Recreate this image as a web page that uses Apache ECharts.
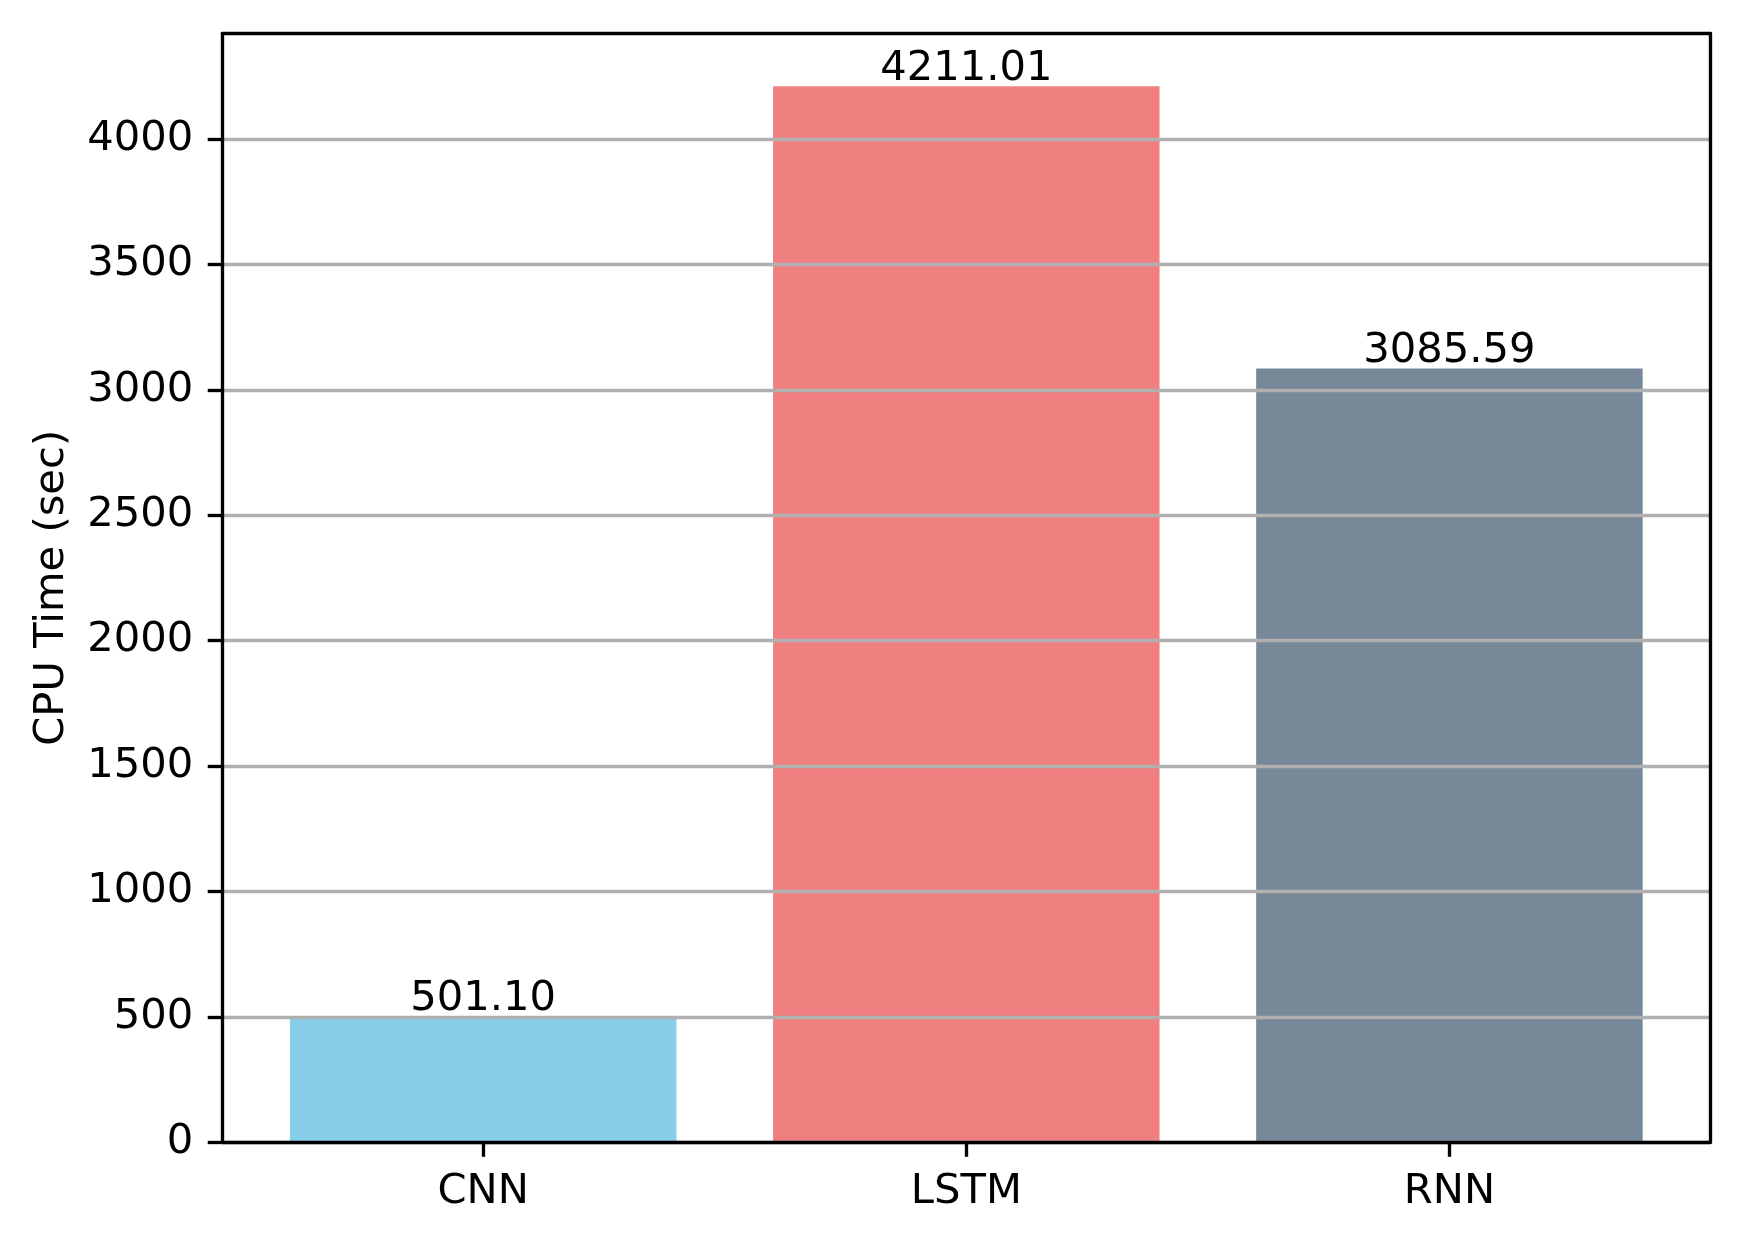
<!DOCTYPE html>
<html style="height: 100%">
<head>
    <meta charset="utf-8">
    <script src="https://cdn.jsdelivr.net/npm/echarts@6/dist/echarts.min.js"></script>
</head>
<body style="height: 100%; margin: 0; background: #fff">
    <div id="chart" style="width: 1743px; height: 1241px"></div>
    <script type="text/javascript">
        // data
        var models = ['CNN', 'LSTM', 'RNN'];
        var cpuTimes = [501.10, 4211.01, 3085.59];
        var barColors = ['#87ceeb', '#f08080', '#778899'];
        var yTicks = [0, 500, 1000, 1500, 2000, 2500, 3000, 3500, 4000];
        var xTicks = [0, 1, 2];

        // matplotlib look: 300 dpi, 10pt text, 0.8pt lines
        var FONT = 41.67;
        var LW = 3.33;
        var gridW = 1488, gridH = 1108.8;
        var xMin = -0.54, xMax = 2.54;
        var yMax = Math.max.apply(null, cpuTimes) * 1.05;

        var myChart = echarts.init(document.getElementById('chart'));
        var txt = { color: '#000', fontFamily: 'DejaVu Sans', fontSize: FONT };

        myChart.setOption({
            animation: false,
            backgroundColor: '#fff',
            textStyle: { fontFamily: 'DejaVu Sans' },
            grid: { left: 222.3, top: 33.4, width: gridW, height: gridH, outerBoundsMode: 'none' },
            xAxis: [{
                type: 'value', min: xMin, max: xMax, z: 3,
                axisLine: { show: true, onZero: false, lineStyle: { color: '#000', width: LW } },
                axisTick: { show: true, length: 14.6, lineStyle: { color: '#000', width: LW }, customValues: xTicks },
                axisLabel: Object.assign({ margin: 29, customValues: xTicks, formatter: function (v) { return models[v]; } }, txt),
                splitLine: { show: false }
            }, {
                type: 'value', position: 'top', min: xMin, max: xMax, z: 3,
                axisLine: { show: true, onZero: false, lineStyle: { color: '#000', width: LW } },
                axisTick: { show: false }, axisLabel: { show: false }, splitLine: { show: false }
            }],
            yAxis: [{
                type: 'value', min: 0, max: yMax, z: 3,
                name: 'CPU Time (sec)', nameLocation: 'middle', nameGap: 149,
                nameTextStyle: txt,
                axisLine: { show: true, onZero: false, lineStyle: { color: '#000', width: LW } },
                axisTick: { show: true, length: 14.6, lineStyle: { color: '#000', width: LW }, customValues: yTicks },
                axisLabel: Object.assign({ margin: 29, customValues: yTicks, formatter: function (v) { return String(v); } }, txt),
                splitLine: { show: true, lineStyle: { color: '#b0b0b0', width: LW } }
            }, {
                type: 'value', position: 'right', min: 0, max: yMax, z: 3,
                axisLine: { show: true, onZero: false, lineStyle: { color: '#000', width: LW } },
                axisTick: { show: false }, axisLabel: { show: false }, splitLine: { show: false }
            }],
            series: [{
                type: 'bar',
                xAxisIndex: 0, yAxisIndex: 0,
                barWidth: 0.8 * gridW / (xMax - xMin),
                data: cpuTimes.map(function (v, i) {
                    return { value: [i, v], itemStyle: { color: barColors[i] } };
                }),
                label: Object.assign({
                    show: true, position: 'top', distance: -4,
                    formatter: function (p) { return p.value[1].toFixed(2); }
                }, txt)
            }]
        });
    </script>
</body>
</html>
